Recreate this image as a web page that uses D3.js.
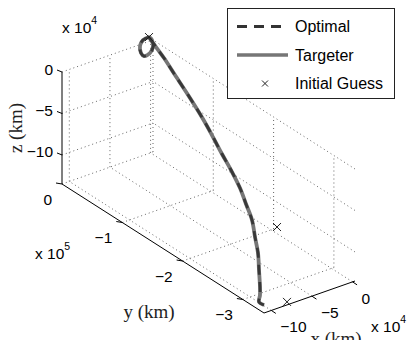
<!DOCTYPE html>
<html>
<head>
<meta charset="utf-8">
<script src="https://cdn.jsdelivr.net/npm/d3@7"></script>
<style>
  html, body { margin: 0; padding: 0; background: #fff; }
  svg { display: block; }
</style>
</head>
<body>
<svg id="chart" width="408" height="340"></svg>
<script>
// trajectory (km); the optimal and targeter solutions overlay each other
const trajX = [-3400, -10050, -13000, -11770, -8820, -2920, 30, -450, -3400,
  -6000, -10000, -16000, -25000, -34000, -42000, -49000, -56000, -63000, -70000,
  -76000, -82000, -88000, -93000, -98000, -102000, -105000, -106000];
const trajY = [-2000, -1000, 0, 0, -1000, -3000, -4000, -3000, -2000,
  -17110, -35760, -62090, -99090, -132780, -160140, -184490, -208860, -233210, -252590,
  -270630, -283690, -296750, -305140, -313540, -318930, -321310, -330960];
const trajZ = [6710, 4920, -1750, -10610, -14780, -12270, -5590, 2550, 6710,
  2570, -660, -6860, -14310, -20890, -27130, -33900, -39470, -47450, -55330,
  -64180, -76530, -87690, -102550, -117420, -123180, -129480, -128280];

// initial guess nodes
const guessX = [-3400, -50000, -82000];
const guessY = [-2000, -277060, -336760];
const guessZ = [6710, -78570, -130100];

const xTicks = [-100000, -50000, 0];
const yTicks = [0, -100000, -200000, -300000];
const zTicks = [0, -50000, -100000];

const xLim = [-109000, 3000];
const yLim = [-335000, 0];
const zLim = [-135000, 0];

const seriesNames = ['Optimal', 'Targeter', 'Initial Guess'];

// screen frame of the 3D box (corner xmin/ymin/zmin and edge vectors)
const O = [264, 313];
const EX = [91, -32];
const EY = [-202, -129];
const EZ = [0, -112];

const xS = d3.scaleLinear().domain(xLim).range([0, 1]);
const yS = d3.scaleLinear().domain(yLim).range([0, 1]);
const zS = d3.scaleLinear().domain(zLim).range([0, 1]);

function proj(x, y, z) {
  const u = xS(x), v = yS(y), w = zS(z);
  return [O[0] + u * EX[0] + v * EY[0] + w * EZ[0],
          O[1] + u * EX[1] + v * EY[1] + w * EZ[1]];
}

const svg = d3.select('#chart');
const tickFont = '"Liberation Sans", Arial, sans-serif';
const labelFont = '"Liberation Serif", "Times New Roman", serif';
const fmt = d3.format('');

// grid on the three back planes
const gGrid = svg.append('g')
  .attr('stroke', '#555').attr('stroke-width', 0.9)
  .attr('stroke-dasharray', '1,3').attr('fill', 'none');
const gridSegs = [];
xTicks.forEach(x => {
  gridSegs.push([[x, yLim[0], zLim[0]], [x, yLim[1], zLim[0]]]);
  gridSegs.push([[x, yLim[1], zLim[0]], [x, yLim[1], zLim[1]]]);
});
yTicks.forEach(y => {
  gridSegs.push([[xLim[0], y, zLim[0]], [xLim[1], y, zLim[0]]]);
  gridSegs.push([[xLim[1], y, zLim[0]], [xLim[1], y, zLim[1]]]);
});
zTicks.forEach(z => {
  gridSegs.push([[xLim[0], yLim[1], z], [xLim[1], yLim[1], z]]);
  gridSegs.push([[xLim[1], yLim[0], z], [xLim[1], yLim[1], z]]);
});
gGrid.selectAll('line').data(gridSegs).enter().append('line')
  .each(function (d) {
    const a = proj(...d[0]), b = proj(...d[1]);
    d3.select(this).attr('x1', a[0]).attr('y1', a[1]).attr('x2', b[0]).attr('y2', b[1]);
  });

// axis lines
const gAxes = svg.append('g').attr('stroke', '#000').attr('stroke-width', 1).attr('fill', 'none');
const axisSegs = [
  [[xLim[0], yLim[0], zLim[0]], [xLim[1], yLim[0], zLim[0]]],
  [[xLim[0], yLim[0], zLim[0]], [xLim[0], yLim[1], zLim[0]]],
  [[xLim[0], yLim[1], zLim[0]], [xLim[0], yLim[1], zLim[1]]]
];
gAxes.selectAll('line.ax').data(axisSegs).enter().append('line').attr('class', 'ax')
  .each(function (d) {
    const a = proj(...d[0]), b = proj(...d[1]);
    d3.select(this).attr('x1', a[0]).attr('y1', a[1]).attr('x2', b[0]).attr('y2', b[1]);
  });

function ticks(vals, toPt, dir, lab) {
  vals.forEach(v => {
    const p = toPt(v);
    gAxes.append('line')
      .attr('x1', p[0]).attr('y1', p[1])
      .attr('x2', p[0] + dir[0]).attr('y2', p[1] + dir[1]);
    svg.append('text')
      .attr('x', p[0] + lab.dx).attr('y', p[1] + lab.dy)
      .attr('text-anchor', lab.anchor)
      .attr('font-family', tickFont).attr('font-size', 15.5).attr('fill', '#000')
      .text(fmt(v / lab.div));
  });
}
ticks(xTicks, v => proj(v, yLim[0], zLim[0]), [4.5, 3], { dx: 9, dy: 22, anchor: 'start', div: 1e4 });
ticks(yTicks, v => proj(xLim[0], v, zLim[0]), [-6, -1], { dx: -10, dy: 20.5, anchor: 'end', div: 1e5 });
ticks(zTicks, v => proj(xLim[0], yLim[1], v), [-5, -2], { dx: -9, dy: 2.5, anchor: 'end', div: 1e4 });

// exponent labels
function expLabel(x, y, e) {
  const t = svg.append('text').attr('x', x).attr('y', y)
    .attr('font-family', tickFont).attr('font-size', 15.5).attr('fill', '#000');
  t.append('tspan').text('x 10');
  t.append('tspan').attr('dy', -9).attr('font-size', 10.5).text(e);
}
expLabel(62, 33, '4');
expLabel(35, 259, '5');
expLabel(371, 332, '4');

// axis titles
svg.append('text').attr('x', 149).attr('y', 318).attr('text-anchor', 'middle')
  .attr('font-family', labelFont).attr('font-size', 19).attr('fill', '#222').text('y (km)');
svg.append('text').attr('x', 336).attr('y', 345).attr('text-anchor', 'middle')
  .attr('font-family', labelFont).attr('font-size', 19).attr('fill', '#222').text('x (km)');
svg.append('text').attr('transform', 'translate(22,128) rotate(-90)').attr('text-anchor', 'middle')
  .attr('font-family', labelFont).attr('font-size', 19).attr('fill', '#222').text('z (km)');

// trajectories
const pts = trajX.map((x, i) => proj(x, trajY[i], trajZ[i]));
const line = d3.line().curve(d3.curveCatmullRom.alpha(0.5));
svg.append('path').attr('d', line(pts)).attr('fill', 'none')
  .attr('stroke', '#767676').attr('stroke-width', 3.8).attr('stroke-linejoin', 'round');
svg.append('path').attr('d', line(pts)).attr('fill', 'none')
  .attr('stroke', '#383838').attr('stroke-width', 2.8).attr('stroke-dasharray', '10,7');

// initial guess markers
function cross(g, c, s) {
  g.append('path')
    .attr('d', `M${c[0] - s},${c[1] - s}L${c[0] + s},${c[1] + s}M${c[0] - s},${c[1] + s}L${c[0] + s},${c[1] - s}`)
    .attr('stroke', '#222').attr('stroke-width', 1).attr('fill', 'none');
}
const gGuess = svg.append('g');
guessX.forEach((x, i) => cross(gGuess, proj(x, guessY[i], guessZ[i]), 4));

// legend
const lg = svg.append('g');
lg.append('rect').attr('x', 227.5).attr('y', 8.5).attr('width', 167).attr('height', 90)
  .attr('fill', '#fff').attr('stroke', '#222').attr('stroke-width', 1);
const rowY = [26.5, 55, 83.5];
lg.append('line').attr('x1', 237).attr('x2', 288).attr('y1', rowY[0]).attr('y2', rowY[0])
  .attr('stroke', '#333').attr('stroke-width', 3.2).attr('stroke-dasharray', '10,7');
lg.append('line').attr('x1', 237).attr('x2', 288).attr('y1', rowY[1]).attr('y2', rowY[1])
  .attr('stroke', '#767676').attr('stroke-width', 3.4);
cross(lg, [265, rowY[2]], 3);
seriesNames.forEach((n, i) => {
  lg.append('text').attr('x', 295).attr('y', rowY[i] + 5.8)
    .attr('font-family', tickFont).attr('font-size', 16).attr('fill', '#000').text(n);
});
</script>
</body>
</html>
